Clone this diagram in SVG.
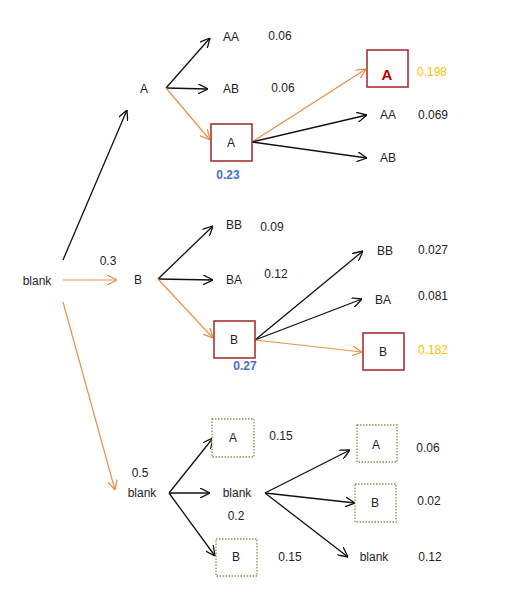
<svg xmlns="http://www.w3.org/2000/svg" width="518" height="589" viewBox="0 0 518 589">
<style>
text{font-family:"Liberation Sans",Arial,sans-serif;font-size:12px;fill:#222;text-anchor:middle;dominant-baseline:central}
.blk{stroke:#111;stroke-width:1.3;fill:none;marker-end:url(#ab)}
.org{stroke:#E8904A;stroke-width:1.2;fill:none;marker-end:url(#ao)}
.rbox{fill:#fff;stroke:#A83232;stroke-width:1.6}
.gbox{fill:#fff;stroke:#7A9A50;stroke-width:1.3;stroke-dasharray:1.5 1.5}
.blue{fill:#4472C4;font-weight:bold}
.yel{fill:#FFC000}
.big{fill:#C00000;font-weight:bold;font-size:15px}
</style>
<defs>
<marker id="ab" viewBox="0 0 10 10" refX="10" refY="5" markerWidth="10" markerHeight="10" markerUnits="userSpaceOnUse" orient="auto"><path d="M0,0 L10,5 L0,10" fill="none" stroke="#111" stroke-width="1.3"/></marker>
<marker id="ao" viewBox="0 0 10 10" refX="10" refY="5" markerWidth="10" markerHeight="10" markerUnits="userSpaceOnUse" orient="auto"><path d="M0,0 L10,5 L0,10" fill="none" stroke="#E8904A" stroke-width="1.3"/></marker>
</defs>
<rect width="518" height="589" fill="#fff"/>
<g id="connectors">
<path class="blk" d="M63,260 L127,110"/>
<path class="org" d="M63,280 L117,280"/>
<path class="org" d="M63,302 L115,490"/>
<path class="blk" d="M166,88 L210,38"/>
<path class="blk" d="M166,88 L208,89"/>
<path class="org" d="M166,88 L210,140"/>
<path class="org" d="M252,142 L366,69"/>
<path class="blk" d="M252,142 L367,115"/>
<path class="blk" d="M252,142 L367,158"/>
<path class="blk" d="M158,279 L213,226"/>
<path class="blk" d="M158,279 L213,280"/>
<path class="org" d="M158,279 L213,338"/>
<path class="blk" d="M255,340 L363,251"/>
<path class="blk" d="M255,340 L362,299"/>
<path class="org" d="M255,340 L362,352"/>
<path class="blk" d="M169,493 L213,438"/>
<path class="blk" d="M169,493 L210,493"/>
<path class="blk" d="M169,493 L215,556"/>
<path class="blk" d="M265,493 L350,450"/>
<path class="blk" d="M265,493 L355,503"/>
<path class="blk" d="M265,493 L348,557"/>
</g>
<g id="n-blank"><text x="37" y="281">blank</text></g>
<g id="n-A"><text x="144" y="89">A</text></g>
<g id="n-AA"><text x="231" y="37">AA</text><text x="280" y="36">0.06</text></g>
<g id="n-AB"><text x="231" y="89">AB</text><text x="283" y="88">0.06</text></g>
<g id="n-Abox"><rect class="rbox" x="211" y="124" width="41" height="37"/><text x="231" y="143">A</text><text class="blue" x="228" y="175">0.23</text></g>
<g id="n-Abig"><rect class="rbox" x="367" y="50" width="41" height="37"/><text class="big" x="387" y="74">A</text><text class="yel" x="432" y="72">0.198</text></g>
<g id="n-AAA"><text x="388" y="115">AA</text><text x="433" y="115">0.069</text></g>
<g id="n-AAB"><text x="388" y="158">AB</text></g>
<g id="n-B"><text x="108" y="261">0.3</text><text x="138" y="280">B</text></g>
<g id="n-BB"><text x="234" y="225">BB</text><text x="272" y="227">0.09</text></g>
<g id="n-BA"><text x="234" y="280">BA</text><text x="276" y="274">0.12</text></g>
<g id="n-Bbox"><rect class="rbox" x="214" y="321" width="41" height="37"/><text x="234" y="340">B</text><text class="blue" x="245" y="366">0.27</text></g>
<g id="n-BBB"><text x="385" y="251">BB</text><text x="433" y="250">0.027</text></g>
<g id="n-BBA"><text x="383" y="300">BA</text><text x="433" y="296">0.081</text></g>
<g id="n-BBbox"><rect class="rbox" x="363" y="333" width="41" height="37"/><text x="383" y="352">B</text><text class="yel" x="433" y="350">0.182</text></g>
<g id="n-blank2"><text x="140" y="473">0.5</text><text x="142" y="493">blank</text></g>
<g id="n-gA"><rect class="gbox" x="212" y="419" width="42" height="38"/><text x="233" y="438">A</text><text x="281" y="436">0.15</text></g>
<g id="n-blank3"><text x="237" y="493">blank</text><text x="236" y="516">0.2</text></g>
<g id="n-gB"><rect class="gbox" x="216" y="539" width="41" height="37"/><text x="236" y="557">B</text><text x="290" y="557">0.15</text></g>
<g id="n-gA2"><rect class="gbox" x="357" y="425" width="40" height="37"/><text x="376" y="445">A</text><text x="428" y="448">0.06</text></g>
<g id="n-gB2"><rect class="gbox" x="355" y="484" width="41" height="38"/><text x="375" y="503">B</text><text x="429" y="501">0.02</text></g>
<g id="n-blank4"><text x="374" y="557">blank</text><text x="430" y="557">0.12</text></g>
</svg>
